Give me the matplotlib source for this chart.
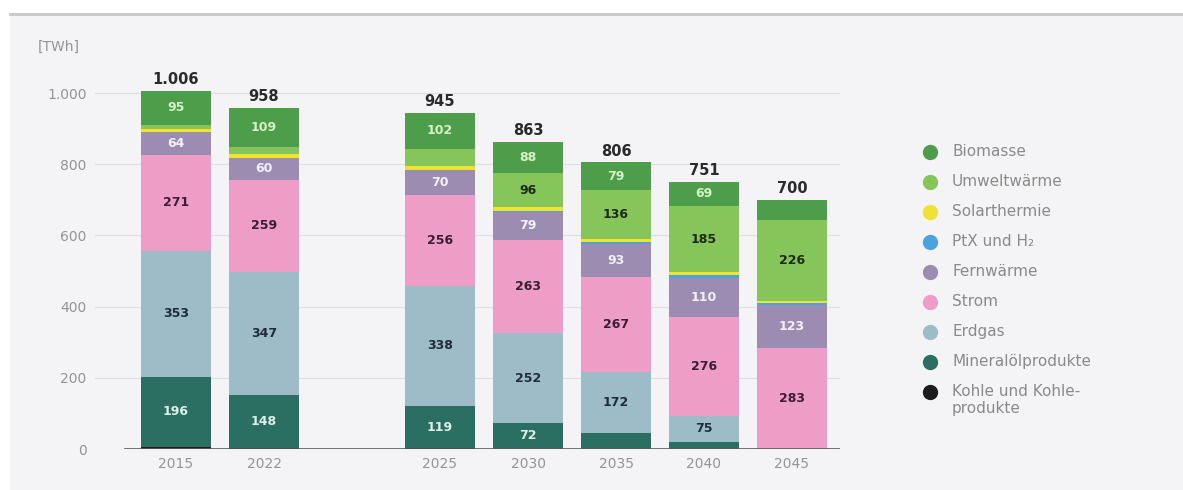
import matplotlib.pyplot as plt
from matplotlib.lines import Line2D
from matplotlib.patches import Rectangle

# Jahre und Positionen (Lücke zwischen 2022 und 2025)
years = ['2015', '2022', '2025', '2030', '2035', '2040', '2045']
positions = [0, 1, 3, 4, 5, 6, 7]

# Endenergie [TWh], von unten nach oben
kohle       = [7, 3, 2, 1, 0, 0, 0]
mineraloel  = [196, 148, 119, 72, 45, 19, 0]
erdgas      = [353, 347, 338, 252, 172, 75, 0]
strom       = [271, 259, 256, 263, 267, 276, 283]
fernwaerme  = [64, 60, 70, 79, 93, 110, 123]
ptx         = [0, 0, 0, 2, 4, 8, 3]
solar       = [8, 12, 9, 10, 10, 9, 8]
umwelt      = [12, 20, 49, 96, 136, 185, 226]
biomasse    = [95, 109, 102, 88, 79, 69, 57]
totals      = [1006, 958, 945, 863, 806, 751, 700]

series = [
    ('Kohle und Kohle-\nprodukte', kohle, '#1c1c1c', '#ffffff'),
    ('Mineralölprodukte', mineraloel, '#2b6e62', '#dcefe9'),
    ('Erdgas', erdgas, '#9dbcc8', '#1f2d3a'),
    ('Strom', strom, '#ee9dc6', '#3a1f30'),
    ('Fernwärme', fernwaerme, '#9d8cb2', '#f4f0fa'),
    ('PtX und H₂', ptx, '#4aa3df', '#ffffff'),
    ('Solarthermie', solar, '#f0e232', '#222222'),
    ('Umweltwärme', umwelt, '#86c55a', '#1c2a16'),
    ('Biomasse', biomasse, '#4e9d4a', '#d6f2c6'),
]

fig = plt.figure(figsize=(11.83, 4.9), dpi=100)
fig.patch.set_facecolor('white')
# grauer Hintergrund + Linie oben
fig.add_artist(Rectangle((10 / 1183, 0), 1, 476 / 490, transform=fig.transFigure,
                         facecolor='#f4f4f6', edgecolor='none', zorder=0))
fig.add_artist(Line2D([10 / 1183, 1], [476 / 490, 476 / 490], transform=fig.transFigure,
                      color='#c8c8ca', lw=2))

ax = fig.add_axes([95 / 1183, 41 / 490, 745 / 1183, 389 / 490])
ax.set_facecolor('none')
x0 = -(176 - 95) / 88
x1 = (840 - 176) / 88
ax.set_xlim(x0, x1)
ax.set_ylim(0, 1093)

for v in [200, 400, 600, 800, 1000]:
    ax.axhline(v, color='#dedee0', lw=0.8, zorder=0)
# Grundlinie beginnt erst links vom ersten Balken
ax.axhline(0, xmin=(-0.58 - x0) / (x1 - x0), color='#5a5a5a', lw=1.2, zorder=3)
ax.axhline(0, xmax=(-0.58 - x0) / (x1 - x0), color='#dedee0', lw=0.8, zorder=0)

bottom = [0] * len(years)
for name, vals, color, tcol in series:
    ax.bar(positions, vals, bottom=bottom, width=0.8, color=color, zorder=2)
    for p, b, v in zip(positions, bottom, vals):
        if v >= 60:
            ax.text(p, b + v / 2, str(v), ha='center', va='center', fontsize=9,
                    fontweight='bold', color=tcol, zorder=4)
    bottom = [b + v for b, v in zip(bottom, vals)]

for p, t in zip(positions, totals):
    ax.text(p, t + 10, f'{t:,}'.replace(',', '.'), ha='center', va='bottom',
            fontsize=10.5, fontweight='bold', color='#2a2a2a')

ax.set_xticks(positions)
ax.set_xticklabels(years, color='#949494', fontsize=10)
ax.set_yticks([0, 200, 400, 600, 800, 1000])
ax.set_yticklabels(['0', '200', '400', '600', '800', '1.000'], color='#949494', fontsize=10)
ax.tick_params(length=0, pad=6)
for s in ax.spines.values():
    s.set_visible(False)

fig.text(38 / 1183, 1 - 47 / 490, '[TWh]', color='#949494', fontsize=10, va='center')

# Legende
for i, (name, vals, color, tcol) in enumerate(reversed(series)):
    y = 1 - (152 + 30 * i) / 490
    fig.add_artist(Line2D([930 / 1183], [y], transform=fig.transFigure, marker='o',
                          markersize=10, color=color, lw=0))
    fig.text(952 / 1183, y + 8 / 490, name, color='#8a8a8a', fontsize=11, va='top',
             linespacing=1.2)

fig.savefig('out.png', dpi=100)
